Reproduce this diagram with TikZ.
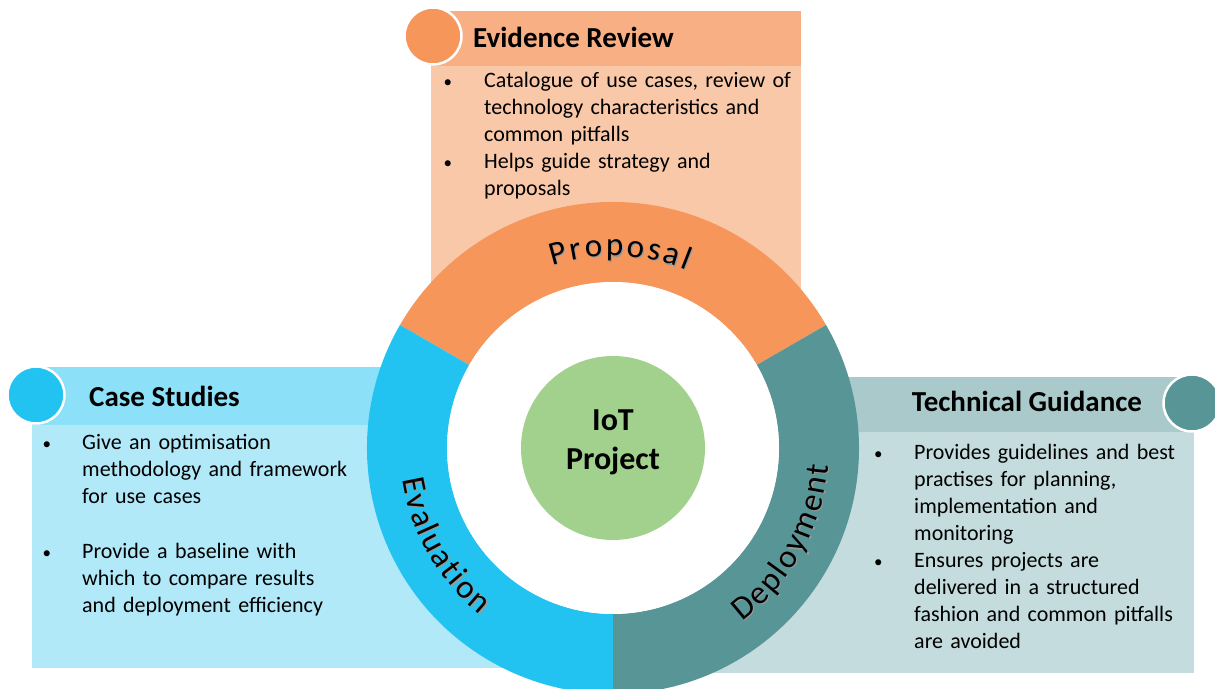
\documentclass[tikz,border=0pt]{standalone}
\usepackage{fontspec}
\setmainfont{Carlito}
\usetikzlibrary{decorations.text}

\definecolor{orRing}{HTML}{F7965A}
\definecolor{orHead}{HTML}{F8AF84}
\definecolor{orBody}{HTML}{F9C8A9}
\definecolor{blRing}{HTML}{22C3F1}
\definecolor{blHead}{HTML}{8CE0F8}
\definecolor{blBody}{HTML}{B2E9F9}
\definecolor{tlRing}{HTML}{579597}
\definecolor{tlHead}{HTML}{A9C9CB}
\definecolor{tlBody}{HTML}{C4DCDD}
\definecolor{hub}{HTML}{A2D18D}

\newcommand{\ringfont}{\fontsize{33}{33}\selectfont}
% small gaps after each letter of the spaced ring labels
\newcommand{\wideP}{\kern2.8pt}
\newcommand{\wideE}{\kern2pt}

\begin{document}
\begin{tikzpicture}[x=1pt,y=1pt,
  headtxt/.style={font=\fontsize{29}{34}\selectfont\bfseries, inner sep=0pt, anchor=base west},
  bodytxt/.style={font=\fontsize{22}{26.9}\selectfont, inner sep=0pt, anchor=base west,
                  text width=330pt, align=left},
  bullet/.style={font=\fontsize{17}{17}\selectfont, inner sep=0pt, anchor=base west},
  badge/.style={circle, draw=white, line width=2.5pt, minimum size=57pt, inner sep=0pt}]
\useasboundingbox (0,0) rectangle (1215,688);
\coordinate (ctr) at (613,240);
\coordinate (sh) at (614.2,238.8);

% panels behind the ring
\fill[orBody] (431,358) rectangle (801,622);
\fill[orHead] (431,622) rectangle (801,677);
\fill[blBody] (32,20) rectangle (613,263);
\fill[blHead] (32,263) rectangle (613,321);
\fill[tlBody] (613,15) rectangle (1194,256);
\fill[tlHead] (613,256) rectangle (1194,311);

% ring sectors
\fill[orRing] ([shift={(30:246)}]ctr) arc[start angle=30,end angle=150,radius=246]
  -- ([shift={(150:166)}]ctr) arc[start angle=150,end angle=30,radius=166] -- cycle;
\fill[blRing] ([shift={(150:246)}]ctr) arc[start angle=150,end angle=270,radius=246]
  -- ([shift={(270:166)}]ctr) arc[start angle=270,end angle=150,radius=166] -- cycle;
\fill[tlRing] ([shift={(-90:246)}]ctr) arc[start angle=-90,end angle=30,radius=246]
  -- ([shift={(30:166)}]ctr) arc[start angle=30,end angle=-90,radius=166] -- cycle;
\fill[white] (ctr) circle[radius=166];
\node[circle, fill=hub, minimum size=184pt, inner sep=0pt] (hubdisc) at (ctr) {};
\node[font=\fontsize{32}{39}\selectfont\bfseries, text width=150pt, align=center,
      inner sep=0pt, anchor=base] (hubtxt) at (613,257) {IoT\\Project};

% ring labels with soft shadow
\foreach \c/\col in {sh/black!40, ctr/black}{
  \path[decorate, decoration={text along path, text align=center,
        text={|\ringfont\color{\col}|{P\wideP}{r\wideP}{o\wideP}{p\wideP}{o\wideP}{s\wideP}{a\wideP}l}}]
    ([shift={(128:192)}]\c) arc[start angle=128,end angle=48,radius=192];
  \path[decorate, decoration={text along path, text align=center,
        text={|\ringfont\color{\col}|{E\wideE}{v\wideE}{a\wideE}{l\wideE}{u\wideE}{a\wideE}{t\wideE}{i\wideE}{o\wideE}n}}]
    ([shift={(170:213)}]\c) arc[start angle=170,end angle=250,radius=213];
  \path[decorate, decoration={text along path, text align=center,
        text={|\ringfont\color{\col}|{D\wideE}{e\wideE}{p\wideE}{l\wideE}{o\wideE}{y\wideE}{m\wideE}{e\wideE}{n\wideE}t}}]
    ([shift={(-69:216)}]\c) arc[start angle=-69,end angle=11,radius=216];
}

% badges
\node[badge, fill=orRing] (evbadge) at (433,652) {};
\node[badge, fill=blRing] (csbadge) at (36,293) {};
\node[badge, fill=tlRing] (tgbadge) at (1192,285) {};

% Evidence Review
\node[headtxt] (evtitle) at (473,640) {Evidence Review};
\node[bullet] (evb1) at (443.5,600.3) {•};
\node[bodytxt] (evt1) at (484,600.3) {Catalogue of use cases, review of\\technology characteristics and\\common pitfalls};
\node[bullet] (evb2) at (443.5,519.6) {•};
\node[bodytxt] (evt2) at (484,519.6) {Helps guide strategy and\\proposals};

% Case Studies
\node[headtxt] (cstitle) at (89,281.3) {Case Studies};
\node[bullet] (csb1) at (42.5,238) {•};
\node[bodytxt] (cst1) at (82,238) {Give an optimisation\\methodology and framework\\for use cases};
\node[bullet] (csb2) at (42.5,129.7) {•};
\node[bodytxt] (cst2) at (82,129.7) {Provide a baseline with\\which to compare results\\and deployment efficiency};

% Technical Guidance
\node[headtxt] (tgtitle) at (911.7,276.3) {Technical Guidance};
\node[bullet] (tgb1) at (874,228) {•};
\node[bodytxt] (tgt1) at (914,228) {Provides guidelines and best\\practises for planning,\\implementation and\\monitoring};
\node[bullet] (tgb2) at (874,120.4) {•};
\node[bodytxt] (tgt2) at (914,120.4) {Ensures projects are\\delivered in a structured\\fashion and common pitfalls\\are avoided};
\end{tikzpicture}
\end{document}
